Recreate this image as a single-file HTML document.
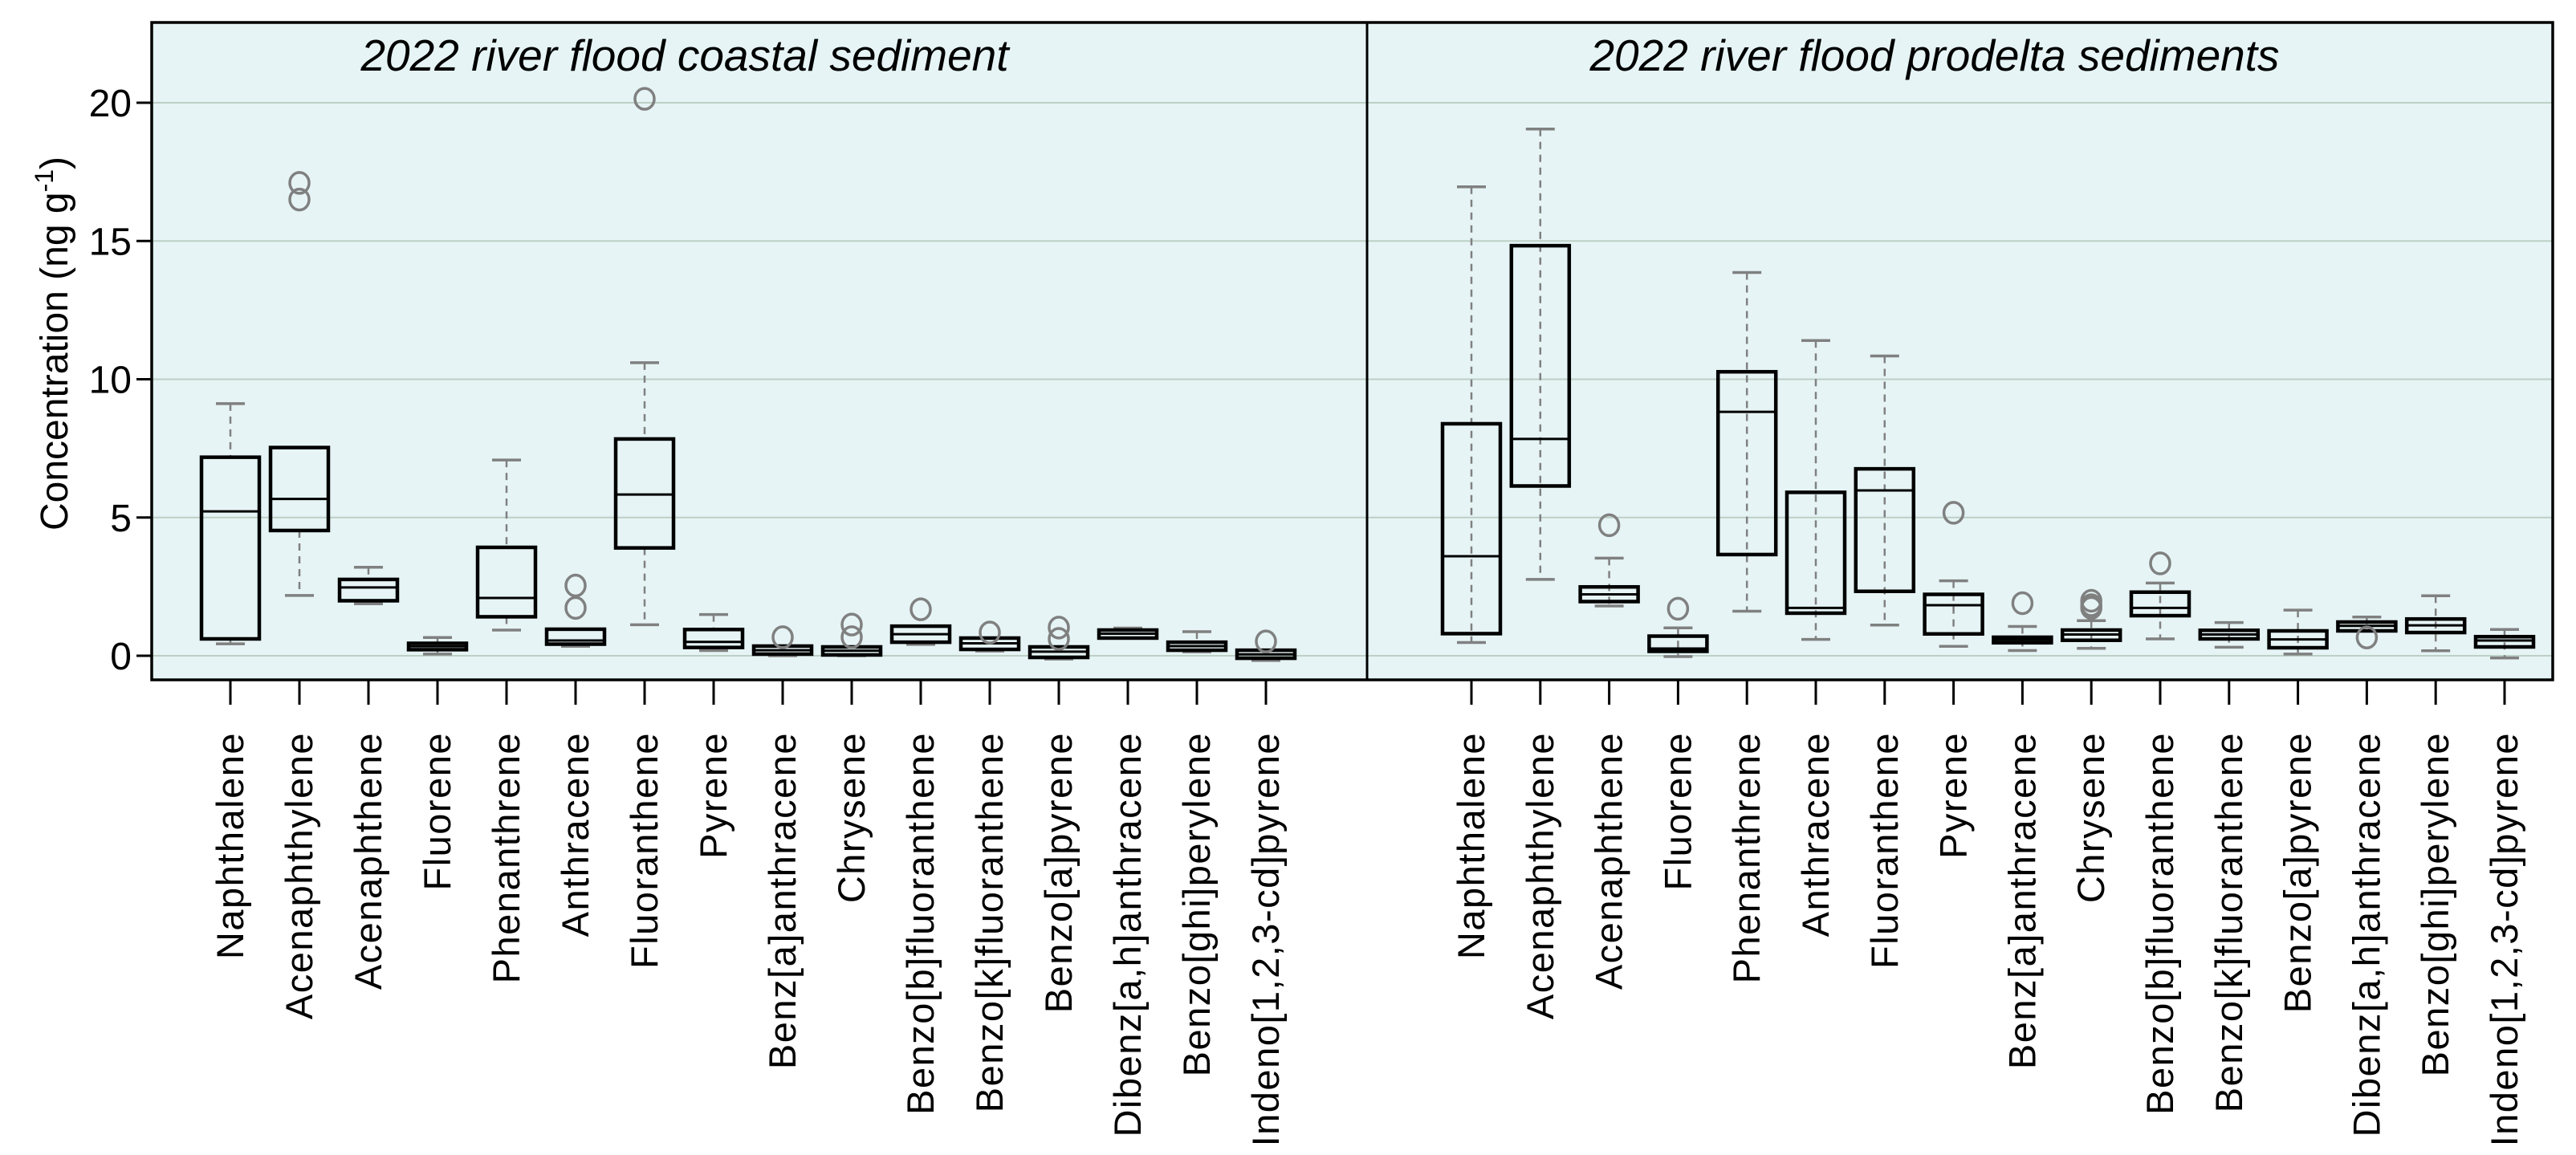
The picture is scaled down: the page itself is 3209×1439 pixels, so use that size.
<!DOCTYPE html>
<html><head><meta charset="utf-8"><style>
html,body{margin:0;padding:0;background:#fff;}
svg{display:block;font-family:"Liberation Sans",Arial,sans-serif;}
</style></head><body>
<svg id="chart" width="3209" height="1439" viewBox="0 0 3209 1439" xmlns="http://www.w3.org/2000/svg"></svg>
<script>
const categories = ["Naphthalene","Acenaphthylene","Acenaphthene","Fluorene","Phenanthrene","Anthracene","Fluoranthene","Pyrene","Benz[a]anthracene","Chrysene","Benzo[b]fluoranthene","Benzo[k]fluoranthene","Benzo[a]pyrene","Dibenz[a,h]anthracene","Benzo[ghi]perylene","Indeno[1,2,3-cd]pyrene"];
const yTicks = [0,5,10,15,20];
const panelTitles = ["2022 river flood coastal sediment","2022 river flood prodelta sediments"];
// panel 1 (coastal)
const p1Low  = [0.43,2.18,1.88,0.06,0.93,0.34,1.12,0.19,0.0,0.0,0.41,0.17,-0.12,0.64,0.14,-0.17];
const p1Q1   = [0.61,4.53,1.99,0.22,1.41,0.42,3.9,0.3,0.06,0.03,0.49,0.23,-0.06,0.64,0.2,-0.09];
const p1Med  = [5.22,5.67,2.47,0.34,2.09,0.55,5.83,0.5,0.2,0.18,0.78,0.45,0.15,0.8,0.35,0.05];
const p1Q3   = [7.18,7.53,2.76,0.45,3.92,0.96,7.84,0.95,0.35,0.32,1.07,0.64,0.32,0.93,0.49,0.2];
const p1High = [9.12,7.53,3.2,0.66,7.08,0.96,10.6,1.49,0.35,0.32,1.07,0.64,0.32,1.0,0.87,0.2];
const p1Out  = [[],[17.1,16.5],[],[],[],[2.54,1.73],[20.14],[],[0.67],[1.13,0.67],[1.68],[0.84],[1.02,0.61],[],[],[0.52]];
// panel 2 (prodelta)
const p2Low  = [0.48,2.76,1.8,-0.03,1.61,0.59,1.11,0.34,0.19,0.27,0.61,0.31,0.06,0.9,0.18,-0.08];
const p2Q1   = [0.8,6.14,1.96,0.16,3.66,1.54,2.33,0.79,0.47,0.56,1.45,0.61,0.29,0.9,0.84,0.32];
const p2Med  = [3.6,7.84,2.22,0.26,8.82,1.73,5.98,1.83,0.58,0.77,1.73,0.77,0.59,1.08,1.1,0.55];
const p2Q3   = [8.39,14.83,2.49,0.71,10.27,5.91,6.76,2.22,0.67,0.93,2.3,0.92,0.9,1.22,1.33,0.69];
const p2High = [16.96,19.05,3.53,1.01,13.86,11.4,10.84,2.71,1.06,1.27,2.63,1.2,1.65,1.4,2.17,0.95];
const p2Out  = [[],[],[4.72],[1.7],[],[],[],[5.17],[1.9],[1.99,1.83,1.73],[3.34],[],[],[0.66],[],[]];

const NS="http://www.w3.org/2000/svg";
const svg=document.getElementById('chart');
const TOP=28,BOT=847,LEFT=189,MID=1703,RIGHT=3180;
const y0=817,pxPerUnit=34.45;
function yScale(v){return y0-v*pxPerUnit;}
const panelX0=[287,1833], panelStep=[86,85.8];
function xScale(p,i){return panelX0[p]+i*panelStep[p];}
function mk(tag,attrs,parent){const e=document.createElementNS(NS,tag);for(const k in attrs)e.setAttribute(k,attrs[k]);(parent||svg).appendChild(e);return e;}

const bg=mk('rect',{x:LEFT,y:TOP,width:RIGHT-LEFT,height:BOT-TOP,fill:'#e6f4f5'});


yTicks.forEach(t=>{
  const g=mk('line',{x1:LEFT,x2:RIGHT,y1:yScale(t),y2:yScale(t),stroke:'#bcd0c6','stroke-width':2});
  
  
  const tk=mk('line',{x1:170,x2:LEFT,y1:yScale(t),y2:yScale(t),stroke:'#000','stroke-width':3});
  
  
  const tl=mk('text',{x:164,y:yScale(t)+17,'font-size':48,'text-anchor':'end',fill:'#000'});
  tl.textContent=t;
  
  
});
const yt=mk('text',{transform:'translate(84,428) rotate(-90)','font-size':48,'text-anchor':'middle',fill:'#000'});


yt.innerHTML='Concentration (ng g<tspan dy="-18" font-size="32">-1</tspan><tspan dy="18">)</tspan>';

const panels=[[p1Low,p1Q1,p1Med,p1Q3,p1High,p1Out],[p2Low,p2Q1,p2Med,p2Q3,p2High,p2Out]];
const titleX=[853,2410];
panels.forEach((d,p)=>{
  const [lo,q1,md,q3,hi,out]=d;
  const tt=mk('text',{x:titleX[p],y:88,'font-size':55,'font-style':'italic','text-anchor':'middle',fill:'#000'});
  tt.textContent=panelTitles[p];
  
  
  categories.forEach((c,i)=>{
    const x=xScale(p,i);
    const g=mk('g',{});
    
    
    const w=72;
    const full = p===1;
    mk('line',{x1:x,x2:x,y1:yScale(hi[i]),y2:full?yScale(lo[i]):yScale(q3[i]),stroke:'#808080','stroke-width':2.5,'stroke-dasharray':'9,7'},g);
    if(!full) mk('line',{x1:x,x2:x,y1:yScale(q1[i]),y2:yScale(lo[i]),stroke:'#808080','stroke-width':2.5,'stroke-dasharray':'9,7'},g);
    mk('line',{x1:x-18,x2:x+18,y1:yScale(hi[i]),y2:yScale(hi[i]),stroke:'#808080','stroke-width':3.5},g);
    mk('line',{x1:x-18,x2:x+18,y1:yScale(lo[i]),y2:yScale(lo[i]),stroke:'#808080','stroke-width':3.5},g);
    mk('rect',{x:x-w/2,y:yScale(q3[i]),width:w,height:Math.max(yScale(q1[i])-yScale(q3[i]),1),fill:'none',stroke:'#000','stroke-width':4.5},g);
    mk('line',{x1:x-w/2,x2:x+w/2,y1:yScale(md[i]),y2:yScale(md[i]),stroke:'#000','stroke-width':3},g);
    out[i].forEach(v=>{
      const o=mk('ellipse',{cx:x,cy:yScale(v),rx:12,ry:13,fill:'none',stroke:'#808080','stroke-width':3.5},g);
      
      
    });
    const tk=mk('line',{x1:x,x2:x,y1:BOT,y2:878,stroke:'#000','stroke-width':3});
    
    
    const lb=mk('text',{transform:`translate(${x+16},912) rotate(-90)`,'font-size':47,'letter-spacing':1.5,'text-anchor':'end',fill:'#000'});
    lb.textContent=c;
    
    
  });
});
const fr=mk('rect',{x:LEFT,y:TOP,width:RIGHT-LEFT,height:BOT-TOP,fill:'none',stroke:'#000','stroke-width':3.5});


const dv=mk('line',{x1:MID,x2:MID,y1:TOP,y2:BOT,stroke:'#000','stroke-width':3});


</script>
</body></html>
